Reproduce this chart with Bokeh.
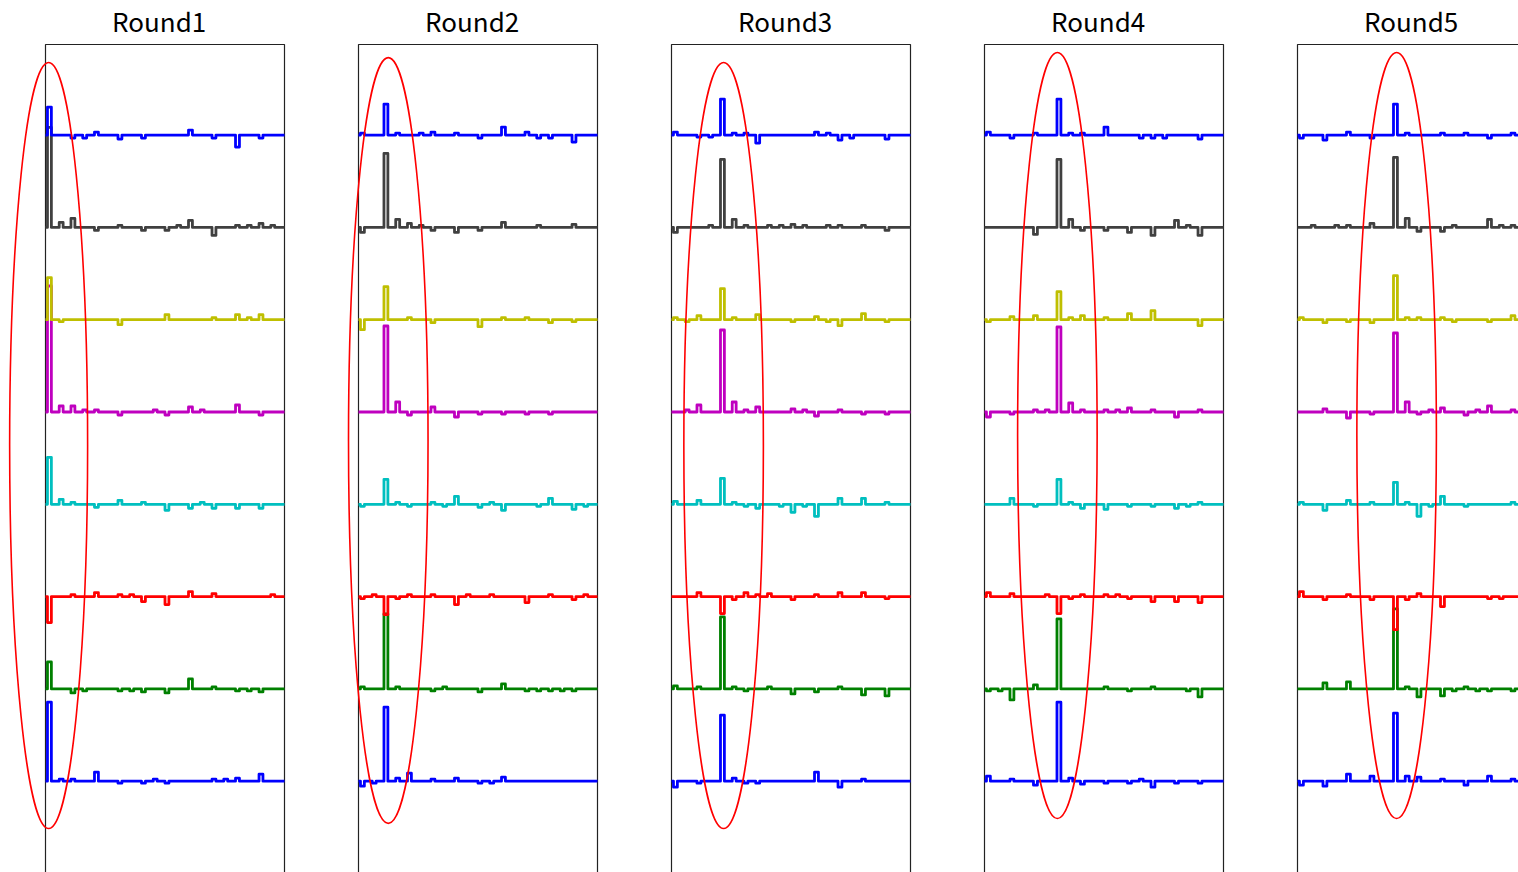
import numpy as np
from bokeh.plotting import figure
from bokeh.layouts import row
from bokeh.models import Range1d
from bokeh.core.properties import value
from bokeh.embed import file_html
from bokeh.resources import INLINE

# ---------------- data ----------------
rounds = ["Round1", "Round2", "Round3", "Round4", "Round5"]
trace_names = ["blue1", "gray2", "yellow3", "magenta4", "cyan5", "red6", "green7", "blue8"]
trace_colors = ["#0000FF", "#404040", "#BFBF00", "#BF00BF", "#00BFBF", "#FF0000", "#008000", "#0000FF"]

n_samples = 62                      # sample index 0..61
feature_idx = list(range(1, 62, 3))  # samples that carry signal: 1, 4, ..., 61
trace_spacing = 92.3                # vertical offset between traces

r1 = {
    "blue1":    [28, 0, -3, -3, 3, 0, -4, 0, -3, 0, 0, 0, 5, 0, -3, 0, -12, 0, -3, 0, 0],
    "gray2":    [100, 5, 9, 0, -3, 0, 2, 0, -3, 0, -3, 2, 7, 0, -8, 0, 2, 2, 4, 2, 0],
    "yellow3":  [42, -2, 0, 0, 0, 0, -5, 0, 0, 0, 5, 0, 0, 0, 2, 0, 5, 2, 5, 0, 0],
    "magenta4": [126, 6, 6, 2, 2, 0, -3, 0, 0, 2, -3, 0, 5, 2, 0, 0, 7, 0, -3, 0, 0],
    "cyan5":    [47, 5, 2, 0, -3, 0, 4, 0, 2, 0, -6, 0, -4, 2, -4, 0, -4, 0, -4, 0, 0],
    "red6":     [-26, 0, 2, 0, 4, 0, 2, 2, -5, 0, -8, 0, 5, 0, 3, 0, 0, 0, 0, 2, 0],
    "green7":   [27, 0, -4, -2, 0, 0, -2, -2, -3, 0, -4, 0, 10, 0, 2, 0, -2, -2, -3, 0, 0],
    "blue8":    [79, 2, 2, 0, 9, 0, -2, 0, -2, 2, -2, 0, 0, 0, 2, 2, 3, 0, 7, 0, 0],
}
r2 = {
    "blue1":    [2, 0, 31, 2, 0, 2, 3, 0, 2, 0, -3, 0, 8, 0, 3, -3, -3, 0, -7, 0, 0],
    "gray2":    [-5, 0, 74, 8, 4, 2, -3, 0, -5, 0, -3, 0, 5, 0, 0, 2, 0, 0, 3, 0, 0],
    "yellow3":  [-10, 0, 33, 0, 2, 0, -3, 0, 0, 0, -7, 0, 2, 0, 2, 0, -3, 0, -2, 0, 0],
    "magenta4": [0, 0, 86, 10, -3, 0, 5, 0, -5, 0, -2, 0, -2, 0, -2, 0, -2, 0, 0, 0, 0],
    "cyan5":    [-2, 0, 25, 2, -2, 0, 2, -2, 8, 0, -3, 2, -6, 0, 0, -2, 6, 0, -5, -2, 0],
    "red6":     [-2, 2, -18, -2, 2, 0, 2, 0, -8, 2, 0, 2, 0, 0, -6, 0, 2, 0, -3, 2, 0],
    "green7":   [2, 0, 75, 2, 0, 0, -2, 2, 0, 0, -3, 0, 5, 0, -2, -2, -2, -2, -2, 0, 0],
    "blue8":    [-5, -2, 74, 3, 8, 0, 2, 0, 3, 0, -2, -2, 4, 0, 0, 0, 0, 0, 0, 0, 0],
}
r3 = {
    "blue1":    [3, 0, -2, -2, 36, 2, 2, -8, 0, 0, 0, 0, 3, 2, -5, -3, 0, 0, -4, 0, 0],
    "gray2":    [-5, 0, 0, 2, 68, 8, 2, 0, 2, 2, 3, 2, 0, 2, 2, 0, 2, 0, -3, 0, 0],
    "yellow3":  [2, -2, 4, 0, 31, 2, 0, 5, 0, 0, -2, 0, 3, -2, -6, 0, 6, 0, -2, 0, 0],
    "magenta4": [0, 2, 7, 0, 82, 10, 2, 5, 0, 0, 3, 2, -4, 0, 2, 0, -2, 0, -2, 0, 0],
    "cyan5":    [3, 0, 4, 0, 26, 2, -2, -4, 0, -2, -8, -2, -12, 0, 6, 0, 6, 0, 2, 0, 0],
    "red6":     [0, 0, 4, 0, -17, -3, 4, 2, 3, 0, -3, 0, 2, 0, 4, 0, 4, 0, -2, 0, 0],
    "green7":   [3, 0, 2, 0, 72, 2, -2, 0, 2, 0, -5, 0, -3, 0, 2, 0, -6, 0, -7, 0, 0],
    "blue8":    [-6, 0, -2, 0, 66, 3, -2, -2, 0, 0, 0, 0, 9, 0, -6, 0, 2, 0, 0, 0, 0],
}
r4 = {
    "blue1":    [3, 0, -3, 0, 2, 0, 36, 2, 2, 0, 8, 0, 0, -3, -3, -3, 0, 0, -4, 0, 0],
    "gray2":    [0, 0, 0, 0, -7, 0, 68, 8, -3, 0, -3, 0, -5, 0, -8, 0, 7, 2, -8, 0, 0],
    "yellow3":  [-2, 0, 3, 0, 4, 0, 28, 2, 4, 0, 2, 0, 6, 0, 9, 0, 0, 0, -6, 0, 0],
    "magenta4": [-5, 0, -2, 0, 2, 2, 85, 9, 2, 0, 2, 2, 4, 0, 2, 0, -5, 0, 2, 0, 0],
    "cyan5":    [0, 0, 6, 0, -2, 0, 25, 2, -4, 0, -5, 0, -2, 0, -2, 0, -4, -2, 2, 0, 0],
    "red6":     [4, 0, 3, 0, 0, 2, -17, -2, 2, 0, 2, 2, -2, 0, -5, 0, -5, 0, -6, 0, 0],
    "green7":   [-2, -2, -11, 0, 4, 0, 70, 0, 0, 0, 2, 0, -2, 0, 2, 0, 0, -2, -8, 0, 0],
    "blue8":    [5, 0, 2, 0, -4, 0, 79, 3, -3, 0, -2, 0, -2, 2, -6, 0, -2, 0, -2, 0, 0],
}
r5 = {
    "blue1":    [-3, 0, -5, 0, 3, 0, -3, 0, 31, 2, 0, 0, 2, 0, 2, 0, -3, 0, 2, 0, 0],
    "gray2":    [0, 2, 0, 2, 2, 0, 4, 0, 70, 9, -4, 0, -4, 2, 0, 0, 8, 2, 2, 0, 0],
    "yellow3":  [2, 0, -3, 0, -2, 0, -3, 0, 44, 2, 2, 0, 2, -2, 0, 0, -2, 0, 4, 0, 0],
    "magenta4": [0, 0, 3, 0, -6, 0, -2, 0, 79, 10, -2, 2, 4, 0, -3, 2, 6, 0, 2, 0, 0],
    "cyan5":    [2, 0, -6, 0, 4, 0, 2, 0, 22, 2, -12, -2, 8, 0, -2, 0, 0, 0, 2, 0, 0],
    "red6":     [5, 0, -3, 0, 2, 0, -3, 0, -33, -3, 3, 0, -10, 0, 0, 0, -2, -2, 0, 0, 0],
    "green7":   [0, 0, 6, 0, 7, 0, 0, 0, 80, 2, -8, 0, -7, -2, 2, -2, -2, 0, -2, 0, 0],
    "blue8":    [-4, 0, -5, 0, 7, 0, 5, 0, 68, 5, 4, 0, 2, 0, -4, 0, 5, 0, 2, 0, 0],
}
round_data = [r1, r2, r3, r4, r5]

# highlight ellipses (centre x in sample index, centre y, width, height)
ellipse_cx = [0.8, 7.6, 13.3, 18.6, 25.3]
ellipse_cy = [427, 432, 427, 437, 437]
ellipse_w = [19.9, 20.3, 20.3, 20.3, 20.3]
ellipse_h = [766, 766, 766, 766, 766]

# ---------------- drawing ----------------
PX_PER_SAMPLE = 239 / 61.0
LEFT_PAD = 45 / PX_PER_SAMPLE
H = 872
BOX_TOP = 828
BASE_SHIFT = -1.0

edges = np.concatenate([[0.0], np.arange(0.5, n_samples - 1, 1.0), [n_samples - 1.0]])
xs_step = np.repeat(edges, 2)[1:-1]

figs = []
for r, (name, data) in enumerate(zip(rounds, round_data)):
    last = (r == len(rounds) - 1)
    w = 266 if last else 313
    x0 = -LEFT_PAD
    x1 = x0 + w / PX_PER_SAMPLE
    p = figure(width=w, height=H, output_backend="svg", toolbar_location=None,
               x_range=Range1d(x0, x1), y_range=Range1d(0, H),
               x_axis_location=None, y_axis_location=None,
               min_border_left=0, min_border_right=0, min_border_top=0, min_border_bottom=0)
    p.outline_line_color = None
    p.xgrid.visible = False
    p.ygrid.visible = False
    p.background_fill_color = "white"
    p.border_fill_color = "white"

    # frame box (bottom edge lies outside the window)
    if last:
        p.line(x=[0, 0, n_samples + 5], y=[-10, BOX_TOP, BOX_TOP], line_color="#222222", line_width=1.2)
    else:
        p.line(x=[0, 0, n_samples - 1, n_samples - 1], y=[-10, BOX_TOP, BOX_TOP, -10],
               line_color="#222222", line_width=1.2)

    for j in reversed(range(len(trace_names))):
        vals = np.zeros(n_samples)
        vals[feature_idx] = data[trace_names[j]]
        base = (8 - j) * trace_spacing + BASE_SHIFT
        ys = np.repeat(base + vals, 2)
        p.line(x=xs_step, y=ys, line_color=trace_colors[j], line_width=2.8, line_join="round")

    p.ellipse(x=[ellipse_cx[r]], y=[ellipse_cy[r]], width=[ellipse_w[r]], height=[ellipse_h[r]],
              fill_color=None, line_color="#FF0000", line_width=1.6)

    p.text(x=[29.0], y=[H - 20], text=[name], text_align="center", text_baseline="middle",
           text_font=value("Noto Sans CJK JP"), text_font_size="26px", text_color="black")
    figs.append(p)

layout = row(*figs, spacing=0)
open("out.html", "w").write(file_html(layout, INLINE))
